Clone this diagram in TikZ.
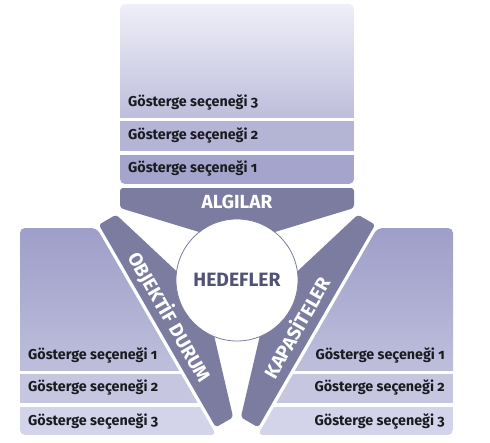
\documentclass[tikz,border=0pt]{standalone}
\usepackage{fontspec}
\setmainfont{Fira Sans}[Numbers=OldStyle]
\usetikzlibrary{
    calc,
    positioning
}
\definecolor{ink}{RGB}{26,26,32}
\definecolor{bandfill}{RGB}{123,124,160}
\definecolor{hubtext}{RGB}{82,82,118}
\definecolor{palelilac}{RGB}{239,239,248}
\definecolor{midlilac}{RGB}{190,190,220}
\definecolor{deeplilac}{RGB}{158,158,201}
\definecolor{toprowtwo}{RGB}{180,180,213}
\definecolor{toprowone}{RGB}{164,164,204}
\definecolor{siderowtwo}{RGB}{198,198,225}
\definecolor{siderowthree}{RGB}{211,211,233}
\tikzset{
    optlabel/.style={
        font=\bfseries\fontsize{14.3}{16}\selectfont,
        text=ink,
        inner sep=0pt
    },
    bandlabel/.style={
        font=\bfseries\fontsize{19}{21}\selectfont,
        text=white,
        inner sep=0pt
    },
    hub/.style={
        circle,
        draw=bandfill,
        line width=0.8pt,
        fill=white,
        minimum size=122pt,
        inner sep=0pt,
        text=hubtext,
        font=\bfseries\fontsize{19.3}{21}\selectfont
    },
    band/.style={
        fill=bandfill,
        rounded corners=3pt
    },
    panelclip/.style={
        rounded corners=5pt
    }
}

\begin{document}
\begin{tikzpicture}[x=1pt, y=-1pt]
\useasboundingbox (0,0) rectangle (490,442);

% Top panel: options above ALGILAR
\begin{scope}
    \clip[panelclip] (120,4) rectangle (354,184);
    \shade[top color=palelilac, bottom color=midlilac] (120,4) rectangle (354,117);
    \fill[toprowtwo] (120,120.5) rectangle (354,151);
    \fill[toprowone] (120,154.5) rectangle (354,184);
\end{scope}
\node[optlabel, anchor=base west] (top3) at (128,106) {Gösterge seçeneği 3};
\node[optlabel, anchor=base west] (top2) at (128,139) {Gösterge seçeneği 2};
\node[optlabel, anchor=base west] (top1) at (128,172.5) {Gösterge seçeneği 1};

% Left panel: options beside OBJEKTİF DURUM
\begin{scope}
    \clip[panelclip] (20,228) -- (96.7,228) -- (216.2,435) -- (20,435) -- cycle;
    \shade[top color=deeplilac, bottom color=midlilac] (20,228) rectangle (220,370);
    \fill[siderowtwo] (20,373.5) rectangle (220,403);
    \fill[siderowthree] (20,406.5) rectangle (220,435);
\end{scope}
\node[optlabel, anchor=base west] (left1) at (28,359) {Gösterge seçeneği 1};
\node[optlabel, anchor=base west] (left2) at (28,391.5) {Gösterge seçeneği 2};
\node[optlabel, anchor=base west] (left3) at (28,425) {Gösterge seçeneği 3};

% Right panel: options beside KAPASİTELER
\begin{scope}
    \clip[panelclip] (453,228) -- (453,435) -- (257.8,435) -- (377.3,228) -- cycle;
    \shade[top color=deeplilac, bottom color=midlilac] (250,228) rectangle (453,370);
    \fill[siderowtwo] (250,373.5) rectangle (453,403);
    \fill[siderowthree] (250,406.5) rectangle (453,435);
\end{scope}
\node[optlabel, anchor=base east] (right1) at (445,359) {Gösterge seçeneği 1};
\node[optlabel, anchor=base east] (right2) at (445,391.5) {Gösterge seçeneği 2};
\node[optlabel, anchor=base east] (right3) at (445,425) {Gösterge seçeneği 3};

% Three bands round the hub
\begin{scope}[shift={(237,280)}]
    \fill[band] (-117,-92) -- (117,-92) -- (117,-72) -- (28,-45) -- (-28,-45) -- (-117,-72) -- cycle;
\end{scope}
\begin{scope}[shift={(237,280)}, rotate=120]
    \fill[band] (-117,-92) -- (117,-92) -- (117,-72) -- (28,-45) -- (-28,-45) -- (-117,-72) -- cycle;
\end{scope}
\begin{scope}[shift={(237,280)}, rotate=-120]
    \fill[band] (-117,-92) -- (117,-92) -- (117,-72) -- (28,-45) -- (-28,-45) -- (-117,-72) -- cycle;
\end{scope}

\node[bandlabel] (algilar) at (237,202) {ALGILAR};
\node[bandlabel, rotate=-60] (objektif) at (170,317) {OBJEKTİF DURUM};
\node[bandlabel, rotate=60] (kapasite) at (296,327) {KAPASİTELER};

% Hub
\node[hub] (hedef) at (237,280) {HEDEFLER};

\end{tikzpicture}
\end{document}
